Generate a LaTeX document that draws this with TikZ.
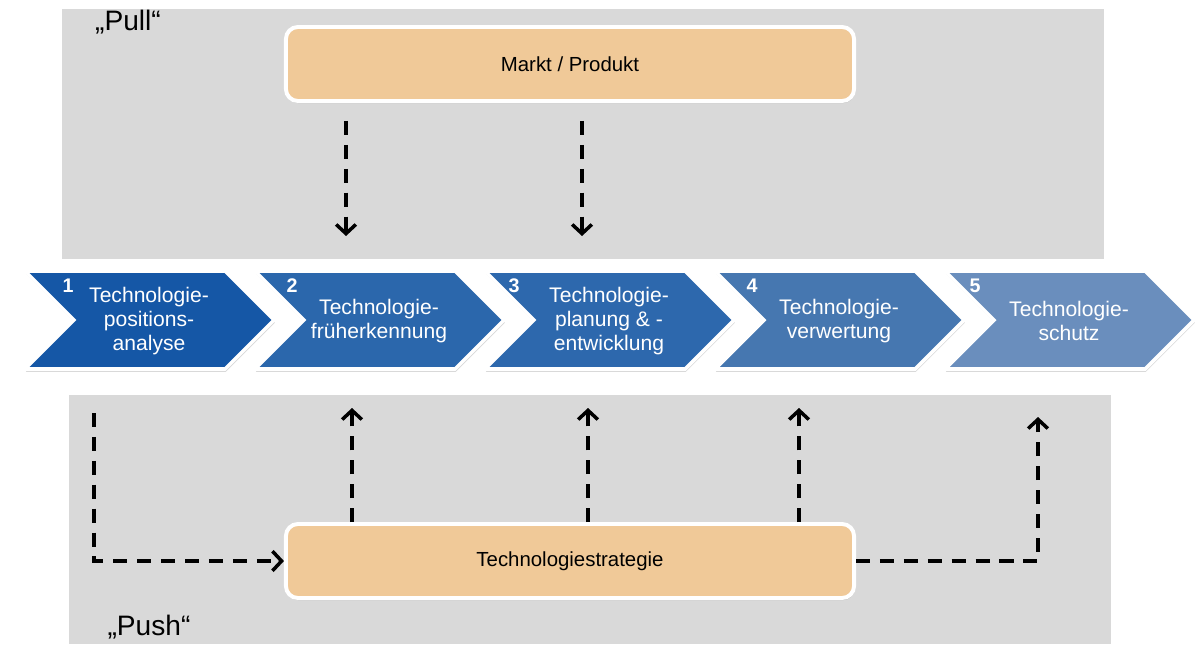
\documentclass[tikz,border=0pt]{standalone}
\usepackage{fontspec}
\setmainfont{Liberation Sans}
\usetikzlibrary{arrows.meta,shadows}
\definecolor{panelgray}{RGB}{217,217,217}
\definecolor{boxtan}{RGB}{240,201,152}
\definecolor{blueA}{RGB}{21,87,166}
\definecolor{blueB}{RGB}{43,103,172}
\definecolor{blueC}{RGB}{45,104,173}
\definecolor{blueD}{RGB}{70,119,176}
\definecolor{blueE}{RGB}{106,142,189}
\begin{document}
\begin{tikzpicture}[x=0.025cm,y=-0.025cm,
    panel/.style={fill=panelgray},
    tanbox/.style={rounded corners=0.3cm, fill=boxtan, draw=white, line width=2.8pt,
      minimum width=14.2cm, minimum height=1.85cm, font=\fontsize{14.5}{17}\selectfont,
      drop shadow={shadow xshift=0.6pt, shadow yshift=-1.5pt, opacity=0.35}},
    phase/.style={draw=white, line width=2.5pt,
      drop shadow={shadow xshift=0.6pt, shadow yshift=-2pt, opacity=0.3}},
    phasetext/.style={text=white, align=center, font=\fontsize{15}{17}\selectfont},
    num/.style={text=white, font=\bfseries\fontsize{14}{16}\selectfont},
    quote/.style={font=\fontsize{20}{22}\selectfont},
    flow/.style={->, line width=2.5pt, dash pattern=on 10pt off 7pt},
    >={Straight Barb[length=6.5pt,width=14pt]}]
    \useasboundingbox (0,0) rectangle (1201,644);
    % grey panels
    \fill[panel] (62,9) rectangle (1104,259);
    \fill[panel] (69,395) rectangle (1111,644);
    \node[quote] (pull) at (128,22) {„Pull“};
    \node[quote] (push) at (149,627) {„Push“};
    % boxes
    \node[tanbox] (markt) at (570,64) {Markt / Produkt};
    \node[tanbox] (strat) at (570,561) {Technologiestrategie};
    % phase chevrons
    \foreach \i/\col/\nx/\txt in {1/blueA/43/{Technologie-\\positions-\\analyse},
        2/blueB/37/{Technologie-\\früherkennung},
        3/blueC/29/{Technologie-\\planung \& -\\entwicklung},
        4/blueD/37/{Technologie-\\verwertung},
        5/blueE/30/{Technologie-\\schutz}} {
      \pgfmathsetmacro\xo{25+230*(\i-1)}
      \filldraw[phase, fill=\col] (\xo,271) -- ++(200,0) -- ++(49,49) -- ++(-49,49)
        -- ++(-200,0) -- ++(49,-49) -- cycle;
      \node[phasetext] (ph\i) at (\xo+124,321) {\txt};
      \node[num] (n\i) at (\xo+\nx,286) {\i};
    }
    % pull arrows
    \coordinate (pull2) at (346,236);
    \coordinate (pull3) at (582,236);
    \draw[flow, shorten <=0.45cm] (markt.south -| pull2) -- (pull2);
    \draw[flow, shorten <=0.45cm] (markt.south -| pull3) -- (pull3);
    % push arrows
    \coordinate (push1) at (94,413);
    \coordinate (push2) at (352,408);
    \coordinate (push3) at (588,408);
    \coordinate (push4) at (799,408);
    \coordinate (push5) at (1038,417);
    \draw[flow] (push1) |- (strat.west);
    \draw[flow] (strat.north -| push2) -- (push2);
    \draw[flow] (strat.north -| push3) -- (push3);
    \draw[flow] (strat.north -| push4) -- (push4);
    \draw[flow] (strat.east) -| (push5);
\end{tikzpicture}
\end{document}
